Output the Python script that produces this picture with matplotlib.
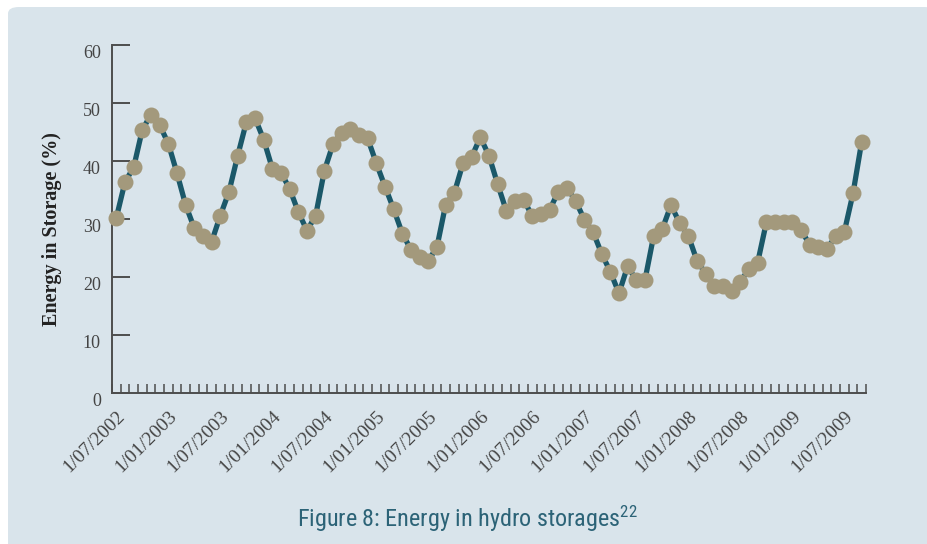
import matplotlib
matplotlib.use("Agg")
import matplotlib.pyplot as plt
from matplotlib.patches import FancyBboxPatch
from matplotlib.transforms import ScaledTranslation
from matplotlib.ticker import FixedLocator

# monthly storage level (%), 87 months starting July 2002
storage = [30.2, 36.4, 38.9, 45.4, 48.0, 46.2, 43.0, 37.9, 32.4, 28.4,
           27.1, 26.1, 30.6, 34.7, 40.9, 46.7, 47.4, 43.7, 38.7, 38.0,
           35.2, 31.2, 28.0, 30.6, 38.3, 42.9, 44.9, 45.5, 44.5, 43.9,
           39.6, 35.6, 31.7, 27.5, 24.7, 23.5, 22.8, 25.2, 32.5, 34.5,
           39.6, 40.7, 44.1, 40.9, 36.0, 31.4, 33.1, 33.3, 30.5, 30.8,
           31.6, 34.7, 35.4, 33.1, 29.9, 27.8, 24.0, 20.9, 17.2, 21.9,
           19.4, 19.5, 27.1, 28.3, 32.4, 29.3, 27.1, 22.8, 20.6, 18.5,
           18.5, 17.6, 19.2, 21.4, 22.5, 29.4, 29.4, 29.4, 29.4, 28.1,
           25.6, 25.1, 24.8, 27.1, 27.8, 34.4, 43.3]
tick_labels = ["1/07/2002", "1/01/2003", "1/07/2003", "1/01/2004", "1/07/2004",
               "1/01/2005", "1/07/2005", "1/01/2006", "1/07/2006", "1/01/2007",
               "1/07/2007", "1/01/2008", "1/07/2008", "1/01/2009", "1/07/2009"]
y_ticks = [0, 10, 20, 30, 40, 50, 60]

bg = "#d9e4eb"
axis_col = "#4d4d4d"
text_col = "#444444"

fig = plt.figure(figsize=(9.27, 5.44), dpi=100, facecolor="white")
panel = FancyBboxPatch((8 / 927, -0.05), 1.0, 1.05 - 7 / 544,
                       boxstyle="round,pad=0,rounding_size=0.012",
                       transform=fig.transFigure, facecolor=bg,
                       edgecolor="none", zorder=-5)
fig.patches.append(panel)

ax = fig.add_axes([112 / 927, 1 - 393 / 544, 754 / 927, 348 / 544])
ax.set_facecolor("none")

xs = list(range(len(storage)))
ax.plot(xs, storage, color="#1b5869", lw=3.8, zorder=2, solid_capstyle="round",
        clip_on=False)
ax.plot(xs, storage, ls="none", marker="o", ms=11.5, mfc="#a3997c",
        mec="none", zorder=3, clip_on=False)

ax.set_xlim(-0.5, len(storage) - 0.5)
ax.set_ylim(0, 60)

for s in ["top", "right"]:
    ax.spines[s].set_visible(False)
for s in ["left", "bottom"]:
    ax.spines[s].set_color(axis_col)
    ax.spines[s].set_linewidth(1.4)

serif = ["Liberation Serif", "DejaVu Serif"]

ax.set_yticks(y_ticks)
ax.set_yticklabels([str(v) for v in y_ticks], family=serif, fontsize=13,
                   color=text_col)
ax.tick_params(axis="y", direction="in", length=13, width=1.4,
               color=axis_col, pad=8)

ax.set_xticks([6 * i for i in range(len(tick_labels))])
ax.set_xticklabels(tick_labels, family=serif, fontsize=14, color=text_col,
                   rotation=45, ha="right", va="center",
                   rotation_mode="anchor")
ax.tick_params(axis="x", which="major", length=0, pad=15)
ax.xaxis.set_minor_locator(FixedLocator([i - 0.5 for i in range(len(storage) + 1)]))
ax.tick_params(axis="x", which="minor", direction="in", length=6.5,
               width=1.1, color=axis_col)

dx = ScaledTranslation(6 / 100, 0, fig.dpi_scale_trans)
for lab in ax.get_xticklabels():
    lab.set_transform(lab.get_transform() + dx)
dy = ScaledTranslation(0, -6 / 100, fig.dpi_scale_trans)
for lab in ax.get_yticklabels():
    lab.set_transform(lab.get_transform() + dy)

fig.text(52 / 927, 1 - 229 / 544, "Energy in Storage (%)", rotation=90,
         ha="center", va="center", family=serif, fontsize=14.5,
         fontweight="bold", color="#222222")

fig.text(297 / 927, 1 - 527 / 544,
         "Figure 8: Energy in hydro storages$\\mathregular{^{22}}$",
         ha="left", va="baseline", fontsize=17.4,
         family=["Liberation Sans Narrow", "Roboto Condensed", "Roboto"],
         color="#2c6377")

fig.savefig("out.png", dpi=100, facecolor="white")
